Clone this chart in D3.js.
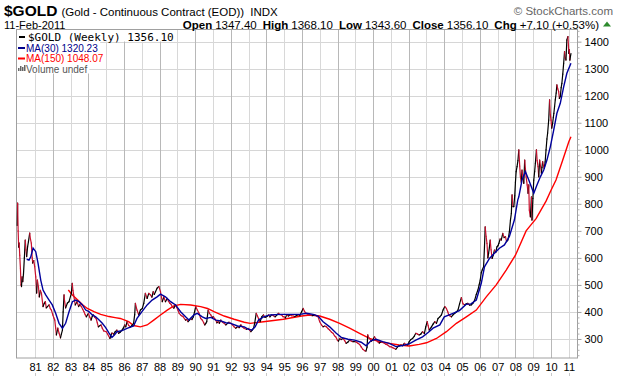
<!DOCTYPE html>
<html>
<head>
<meta charset="utf-8">
<script src="https://cdn.jsdelivr.net/npm/d3@7/dist/d3.min.js"></script>
<style>
  body { margin: 0; background: #fff; }
  svg { display: block; }
</style>
</head>
<body>
<div id="chart"></div>
<script>
// Weekly gold (decimal year, price)
const yearLabels = ["81","82","83","84","85","86","87","88","89","90","91","92","93","94","95","96",
  "97","98","99","00","01","02","03","04","05","06","07","08","09","10","11"]
const yearTicks = [1981,1982,1983,1984,1985,1986,1987,1988,1989,1990,1991,1992,1993,1994,1995,1996,
  1997,1998,1999,2000,2001,2002,2003,2004,2005,2006,2007,2008,2009,2010,2011]
const priceTicks = [300,400,500,600,700,800,900,1000,1100,1200,1300,1400]

const gold = [
  [1980.00,720],[1980.02,803],[1980.05,700],[1980.08,640],[1980.11,655],[1980.14,610],[1980.18,560],
  [1980.21,500],[1980.24,494],[1980.27,530],[1980.31,512],[1980.35,540],[1980.40,600],[1980.45,666],
  [1980.49,630],[1980.53,605],[1980.58,641],[1980.63,660],[1980.70,692],[1980.74,670],[1980.79,655],
  [1980.84,600],[1980.87,581],[1980.93,590],[1980.98,568],[1981.04,530],[1981.09,470],[1981.13,518],
  [1981.19,494],[1981.24,456],[1981.30,480],[1981.36,469],[1981.45,420],[1981.52,432],[1981.58,438],
  [1981.63,415],[1981.70,420],[1981.79,426],[1981.86,412],[1981.92,407],[1982.00,389],[1982.06,378],
  [1982.11,370],[1982.16,340],[1982.20,315],[1982.28,340],[1982.35,322],[1982.43,304],[1982.48,318],
  [1982.54,333],[1982.58,400],[1982.63,463],[1982.66,440],[1982.72,415],[1982.82,433],[1982.91,438],
  [1983.04,469],[1983.09,506],[1983.13,480],[1983.17,463],[1983.26,426],[1983.36,438],[1983.45,420],
  [1983.52,428],[1983.60,420],[1983.68,410],[1983.75,401],[1983.82,390],[1983.88,382],[1984.00,395],
  [1984.08,380],[1984.15,370],[1984.22,385],[1984.28,389],[1984.36,380],[1984.43,376],[1984.50,360],
  [1984.56,345],[1984.66,350],[1984.71,352],[1984.78,340],[1984.86,330],[1985.00,327],[1985.08,318],
  [1985.13,312],[1985.21,302],[1985.27,315],[1985.32,322],[1985.42,318],[1985.51,327],[1985.60,333],
  [1985.70,321],[1985.80,326],[1985.89,333],[1985.96,340],[1986.04,352],[1986.10,345],[1986.17,364],
  [1986.26,350],[1986.36,345],[1986.45,350],[1986.54,358],[1986.60,390],[1986.64,432],[1986.73,407],
  [1986.83,389],[1986.92,407],[1987.03,413],[1987.11,432],[1987.20,469],[1987.30,450],[1987.39,469],
  [1987.49,463],[1987.57,455],[1987.64,475],[1987.70,465],[1987.77,475],[1987.86,488],[1987.96,494],
  [1988.05,475],[1988.15,438],[1988.24,456],[1988.33,438],[1988.43,450],[1988.50,440],[1988.58,432],
  [1988.65,428],[1988.71,420],[1988.80,414],[1988.90,426],[1989.03,407],[1989.10,395],[1989.18,389],
  [1989.26,385],[1989.33,382],[1989.40,375],[1989.46,370],[1989.53,372],[1989.60,364],[1989.68,370],
  [1989.75,376],[1989.82,372],[1989.90,382],[1990.03,420],[1990.12,407],[1990.22,395],[1990.31,376],
  [1990.40,370],[1990.48,360],[1990.54,352],[1990.60,358],[1990.65,364],[1990.73,407],[1990.80,395],
  [1990.88,389],[1990.96,380],[1991.03,382],[1991.10,375],[1991.16,370],[1991.22,360],[1991.29,364],
  [1991.36,358],[1991.44,370],[1991.53,362],[1991.63,358],[1991.72,352],[1991.82,358],[1991.90,362],
  [1992.00,358],[1992.10,352],[1992.19,345],[1992.28,340],[1992.38,345],[1992.47,342],[1992.57,352],
  [1992.66,345],[1992.76,339],[1992.88,336],[1993.00,339],[1993.06,333],[1993.13,327],[1993.20,333],
  [1993.28,339],[1993.35,360],[1993.43,395],[1993.50,385],[1993.56,376],[1993.65,364],[1993.74,382],
  [1993.84,389],[1993.92,380],[1993.99,382],[1994.06,385],[1994.12,389],[1994.20,382],[1994.30,389],
  [1994.40,386],[1994.49,382],[1994.58,388],[1994.68,395],[1994.77,390],[1994.86,389],[1994.93,383],
  [1995.00,382],[1995.07,378],[1995.14,389],[1995.24,385],[1995.33,389],[1995.42,386],[1995.51,385],
  [1995.60,383],[1995.70,387],[1995.79,389],[1995.88,386],[1995.98,401],[1996.07,413],[1996.14,403],
  [1996.22,395],[1996.33,392],[1996.45,389],[1996.58,386],[1996.72,389],[1996.82,385],[1996.91,382],
  [1997.00,364],[1997.10,352],[1997.19,345],[1997.28,348],[1997.38,345],[1997.47,338],[1997.56,333],
  [1997.66,325],[1997.75,321],[1997.83,312],[1997.90,308],[1997.99,296],[1998.05,292],[1998.12,302],
  [1998.20,298],[1998.31,302],[1998.40,294],[1998.49,284],[1998.58,288],[1998.68,296],[1998.78,292],
  [1998.87,290],[1999.00,290],[1999.07,288],[1999.15,284],[1999.24,280],[1999.33,271],[1999.42,262],
  [1999.52,257],[1999.60,255],[1999.66,270],[1999.70,315],[1999.75,305],[1999.80,302],[1999.90,292],
  [1999.98,296],[2000.08,308],[2000.17,298],[2000.26,290],[2000.35,285],[2000.45,290],[2000.55,287],
  [2000.64,284],[2000.73,280],[2000.82,278],[2000.92,272],[2001.01,271],[2001.10,268],[2001.19,265],
  [2001.28,262],[2001.38,271],[2001.47,275],[2001.57,278],[2001.66,275],[2001.75,284],[2001.85,280],
  [2001.94,278],[2002.03,290],[2002.12,298],[2002.22,302],[2002.31,310],[2002.40,321],[2002.50,318],
  [2002.59,315],[2002.68,318],[2002.78,327],[2002.88,320],[2002.96,345],[2003.04,364],[2003.09,350],
  [2003.15,333],[2003.28,345],[2003.37,355],[2003.47,364],[2003.56,358],[2003.65,376],[2003.75,382],
  [2003.84,389],[2003.93,407],[2004.03,420],[2004.12,413],[2004.20,400],[2004.25,389],[2004.33,385],
  [2004.40,382],[2004.50,390],[2004.59,395],[2004.68,400],[2004.77,407],[2004.86,430],[2004.96,453],
  [2005.05,430],[2005.15,426],[2005.24,430],[2005.33,432],[2005.42,425],[2005.52,426],[2005.61,432],
  [2005.71,444],[2005.80,465],[2005.89,481],[2005.96,500],[2006.02,518],[2006.08,545],[2006.13,555],
  [2006.21,567],[2006.26,640],[2006.30,715],[2006.35,680],[2006.40,654],[2006.45,600],[2006.49,617],
  [2006.54,640],[2006.58,666],[2006.63,630],[2006.69,598],[2006.75,610],[2006.82,629],[2006.89,620],
  [2006.96,641],[2007.02,645],[2007.07,654],[2007.14,670],[2007.20,666],[2007.29,691],[2007.36,675],
  [2007.44,679],[2007.50,660],[2007.57,666],[2007.62,680],[2007.66,697],[2007.72,740],[2007.77,765],
  [2007.81,833],[2007.86,790],[2007.91,790],[2007.96,830],[2008.00,880],[2008.04,919],[2008.09,938],
  [2008.14,960],[2008.19,1000],[2008.24,940],[2008.28,900],[2008.33,880],[2008.37,925],[2008.42,900],
  [2008.47,876],[2008.52,962],[2008.56,930],[2008.60,900],[2008.66,870],[2008.71,839],[2008.75,870],
  [2008.78,777],[2008.84,752],[2008.90,826],[2008.93,740],[2008.98,820],[2009.03,888],[2009.08,920],
  [2009.12,950],[2009.18,1000],[2009.22,960],[2009.27,938],[2009.31,900],[2009.36,962],[2009.41,940],
  [2009.46,913],[2009.49,935],[2009.53,956],[2009.58,940],[2009.62,931],[2009.67,955],[2009.72,1000],
  [2009.77,1040],[2009.81,1062],[2009.87,1110],[2009.92,1185],[2009.96,1130],[2010.00,1110],
  [2010.04,1080],[2010.09,1098],[2010.13,1120],[2010.16,1135],[2010.20,1160],[2010.24,1185],
  [2010.29,1210],[2010.33,1240],[2010.38,1225],[2010.43,1215],[2010.47,1190],[2010.52,1197],
  [2010.57,1230],[2010.61,1246],[2010.66,1280],[2010.71,1320],[2010.76,1363],[2010.80,1340],
  [2010.84,1332],[2010.89,1406],[2010.95,1419],[2010.98,1385],[2011.00,1357],[2011.03,1370],
  [2011.06,1332],[2011.09,1345],[2011.12,1356]
]

// 30-week moving average (blue)
const ma30 = [
  [1980.53,595],[1980.66,592],[1980.76,604],[1980.89,636],[1981.04,623],[1981.17,580],[1981.32,518],
  [1981.45,481],[1981.60,463],[1981.79,444],[1981.97,426],[1982.16,395],[1982.35,358],[1982.54,340],
  [1982.72,358],[1982.91,401],[1983.10,438],[1983.28,444],[1983.47,438],[1983.66,426],[1983.85,407],
  [1984.03,401],[1984.22,389],[1984.41,382],[1984.60,370],[1984.78,358],[1984.97,342],[1985.16,322],
  [1985.32,306],[1985.46,315],[1985.60,327],[1985.89,331],[1986.17,339],[1986.54,348],[1986.73,376],
  [1987.01,401],[1987.30,426],[1987.58,444],[1987.86,456],[1988.05,466],[1988.33,456],[1988.62,438],
  [1988.90,426],[1989.18,401],[1989.46,382],[1989.65,370],[1989.93,389],[1990.12,395],[1990.40,382],
  [1990.59,376],[1990.88,380],[1991.16,370],[1991.44,367],[1991.72,360],[1992.00,358],[1992.38,348],
  [1992.76,345],[1993.00,336],[1993.19,333],[1993.37,345],[1993.56,370],[1993.84,382],[1994.21,389],
  [1994.77,391],[1995.33,391],[1995.89,391],[1996.26,395],[1996.63,391],[1996.91,385],[1997.19,364],
  [1997.56,345],[1997.93,321],[1998.21,306],[1998.59,299],[1998.96,296],[1999.33,288],[1999.61,275],
  [1999.89,294],[2000.17,299],[2000.54,290],[2000.91,284],[2001.29,272],[2001.66,276],[2002.03,282],
  [2002.40,296],[2002.78,308],[2003.11,325],[2003.37,340],[2003.75,352],[2004.00,382],[2004.49,395],
  [2004.85,405],[2005.22,428],[2005.50,430],[2005.80,444],[2006.08,506],[2006.26,567],[2006.54,598],
  [2006.82,617],[2007.10,636],[2007.38,648],[2007.66,679],[2007.94,740],[2008.13,814],[2008.19,826],
  [2008.37,888],[2008.56,919],[2008.75,888],[2009.03,839],[2009.21,870],[2009.40,900],[2009.59,925],
  [2009.77,962],[2009.96,1011],[2010.15,1073],[2010.33,1135],[2010.52,1172],[2010.71,1233],
  [2010.89,1283],[2011.12,1320]
]

// 150-week moving average (red)
const ma150 = [
  [1982.87,481],[1983.10,463],[1983.40,444],[1983.69,426],[1983.94,413],[1984.31,401],[1984.69,391],
  [1985.16,383],[1985.50,379],[1985.79,376],[1986.26,364],[1986.54,350],[1986.92,345],[1987.30,352],
  [1987.67,370],[1988.05,389],[1988.43,407],[1988.80,422],[1989.18,428],[1989.75,426],[1990.31,420],
  [1990.69,413],[1991.06,401],[1991.63,385],[1992.19,373],[1992.76,362],[1993.09,358],[1993.84,364],
  [1994.96,373],[1995.98,385],[1996.45,389],[1997.00,385],[1997.56,373],[1998.12,358],[1998.68,340],
  [1999.24,321],[1999.80,302],[2000.36,290],[2000.91,284],[2001.47,278],[2002.03,274],[2002.59,280],
  [2003.00,286],[2003.56,302],[2004.12,327],[2004.68,358],[2005.24,382],[2005.80,407],[2006.36,456],
  [2006.92,500],[2007.48,555],[2008.00,610],[2008.60,700],[2008.78,715],[2009.16,745],[2009.72,810],
  [2010.00,850],[2010.28,888],[2010.65,960],[2011.00,1030],[2011.12,1048]
]

const W = 620, H = 376
const M = { left: 16, right: 577, top: 29.5, bottom: 358 }
const FONT = "'Liberation Sans', Arial, sans-serif"

const svg = d3.select("#chart").append("svg")
  .attr("width", W).attr("height", H)
  .style("font-family", FONT)

const x = d3.scaleLinear().domain([1979.93, 2011.46]).range([M.left, M.right])
const y = d3.scaleLinear().domain([229.7, 1445]).range([M.bottom, M.top])

// Grid
const grid = svg.append("g")
grid.selectAll("line.h").data(priceTicks).join("line")
  .attr("x1", M.left).attr("x2", M.right)
  .attr("y1", d => Math.round(y(d)) + 0.5).attr("y2", d => Math.round(y(d)) + 0.5)
  .attr("stroke", "#d6d6d6")
grid.selectAll("line.v").data(yearTicks).join("line")
  .attr("x1", d => Math.round(x(d)) + 0.5).attr("x2", d => Math.round(x(d)) + 0.5)
  .attr("y1", M.top).attr("y2", M.bottom)
  .attr("stroke", d => d % 2 === 0 ? "#b8b8b8" : "#d8d8d8")

// Plot frame
svg.append("rect")
  .attr("x", M.left + 0.5).attr("y", M.top)
  .attr("width", M.right - M.left).attr("height", M.bottom - M.top)
  .attr("fill", "none").attr("stroke", "#a0a0a0")

// Right axis: labels + major/minor ticks
const axR = svg.append("g").attr("transform", `translate(${M.right + 0.5},0)`)
  .call(d3.axisRight(y).tickValues(priceTicks).tickSize(4).tickPadding(3).tickFormat(d3.format("d")))
axR.select(".domain").remove()
axR.selectAll("line").attr("stroke", "#a0a0a0")
axR.selectAll("text").attr("font-size", 11).attr("font-family", FONT).attr("fill", "#000")
const minorTicks = priceTicks.flatMap(v => [v - 80, v - 60, v - 40, v - 20]).concat([1420, 1440])
svg.append("g").attr("transform", `translate(${M.right + 0.5},0)`)
  .call(d3.axisRight(y).tickValues(minorTicks.filter(v => v > 230)).tickSize(2).tickFormat(""))
  .call(g => g.select(".domain").remove())
  .selectAll("line").attr("stroke", "#b0b0b0")

// Bottom axis: year labels
const axB = svg.append("g").attr("transform", `translate(0,${M.bottom})`)
  .call(d3.axisBottom(x).tickValues(yearTicks).tickSize(0).tickPadding(5)
    .tickFormat((d, i) => yearLabels[i]))
axB.select(".domain").remove()
axB.selectAll("text").attr("font-size", 11).attr("font-family", FONT).attr("fill", "#000")
svg.append("g").selectAll("line").data(yearTicks).join("line")
  .attr("x1", d => Math.round(x(d)) + 0.5).attr("x2", d => Math.round(x(d)) + 0.5)
  .attr("y1", 373).attr("y2", 376).attr("stroke", "#c8c8c8")

// Lines
const plotArea = svg.append("g")
const line = d3.line().x(d => x(d[0])).y(d => y(d[1]))

plotArea.append("path").datum(ma150)
  .attr("d", line).attr("fill", "none").attr("stroke", "#ff0000").attr("stroke-width", 1.4)

// price: black on up weeks, crimson on down weeks
const segs = d3.pairs(gold)
plotArea.selectAll("path.seg").data(segs).join("path")
  .attr("d", d => line(d))
  .attr("fill", "none")
  .attr("stroke", d => d[1][1] >= d[0][1] ? "#000000" : "#c8102e")
  .attr("stroke-width", 1.2)
  .attr("stroke-linecap", "round")

plotArea.append("path").datum(ma30)
  .attr("d", line).attr("fill", "none").attr("stroke", "#00009c").attr("stroke-width", 1.4)

// Legend
const legend = svg.append("g")
const legRows = [
  { text: "$GOLD (Weekly) 1356.10", color: "#000", font: "'DejaVu Sans Mono', monospace", size: 11, y: 41 },
  { text: "MA(30) 1320.23", color: "#00008b", font: FONT, size: 10, y: 51.5 },
  { text: "MA(150) 1048.07", color: "#ff0000", font: FONT, size: 10, y: 62 },
  { text: "Volume undef", color: "#555", font: FONT, size: 10, y: 72.5 },
]
legRows.forEach((r, i) => {
  const t = legend.append("text")
    .attr("x", i === 0 ? 28 : 26).attr("y", r.y)
    .attr("font-family", r.font).attr("font-size", r.size)
    .attr("fill", r.color).text(r.text)
  const bb = t.node().getBBox()
  legend.insert("rect", "text")
    .attr("x", M.left + 1).attr("y", r.y - (i === 0 ? 11 : 9.5))
    .attr("width", bb.x + bb.width - M.left + 1).attr("height", i === 0 ? 11.5 : 10.5)
    .attr("fill", "#fff")
  if (i < 3) {
    legend.append("rect").attr("x", i === 0 ? 19 : 18).attr("y", r.y - (i === 0 ? 5 : 4.5))
      .attr("width", i === 0 ? 6 : 7).attr("height", 2).attr("fill", r.color)
  }
})
// volume icon
;[[18, 3], [20, 5], [22, 4], [24, 6]].forEach(([bx, h]) => {
  legend.append("rect").attr("x", bx).attr("y", 71 - h).attr("width", 1.5).attr("height", h).attr("fill", "#666")
})

// Header
const title = svg.append("text").attr("x", 4).attr("y", 15.5)
title.append("tspan").attr("font-size", 15.5).attr("font-weight", "bold").text("$GOLD")
title.append("tspan").attr("font-size", 11.5).attr("dx", 4).text("(Gold - Continuous Contract (EOD))")
title.append("tspan").attr("font-size", 11.5).attr("dx", 6).text("INDX")

svg.append("text").attr("x", 613).attr("y", 15).attr("text-anchor", "end")
  .attr("font-size", 11.5).attr("fill", "#666").text("\u00a9 StockCharts.com")

svg.append("text").attr("x", 4).attr("y", 28.5).attr("font-size", 11).text("11-Feb-2011")

const stats = svg.append("text").attr("x", 599).attr("y", 28.5).attr("text-anchor", "end").attr("font-size", 11.5)
;[["Open", "1347.40"], ["High", "1368.10"], ["Low", "1343.60"], ["Close", "1356.10"], ["Chg", "+7.10 (+0.53%)"]]
  .forEach(([k, v], i) => {
    stats.append("tspan").attr("font-weight", "bold").attr("dx", i === 0 ? 0 : 6).text(k)
    stats.append("tspan").attr("dx", 3).text(v)
  })
svg.append("path").attr("d", "M603,26.5 L607,21.5 L611,26.5 Z").attr("fill", "#2e8b2e")
</script>
</body>
</html>
